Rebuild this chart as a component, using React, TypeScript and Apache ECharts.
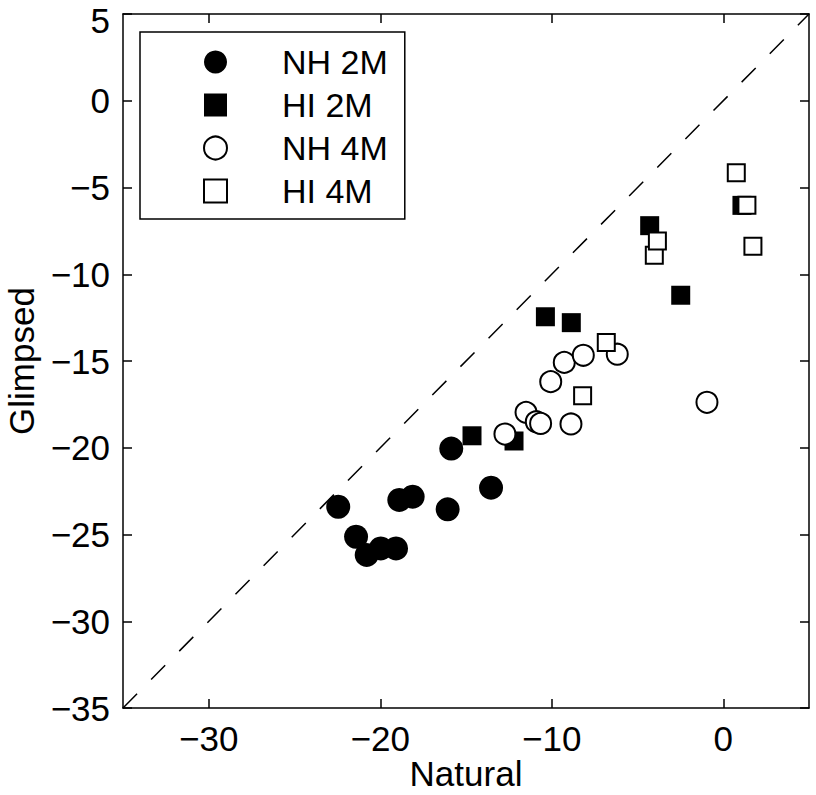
import React, { useEffect, useRef } from "react";
import * as echarts from "echarts";

const xTicks = [-30, -20, -10, 0];
const seriesNames = ["NH 2M", "HI 2M", "NH 4M", "HI 4M"];

const nh2mX = [-22.45, -21.41, -20.79, -19.97, -19.08, -18.89, -18.11, -15.86, -16.07, -13.54];
const nh2mY = [-23.4, -25.13, -26.18, -25.8, -25.8, -23.01, -22.82, -20.05, -23.55, -22.3];

const hi2mX = [-14.65, -12.2, -10.37, -8.86, -4.29, -2.48, 1.09];
const hi2mY = [-19.31, -19.61, -12.45, -12.79, -7.2, -11.21, -6.03];

const nh4mX = [-12.73, -11.5, -10.9, -10.65, -8.88, -10.06, -9.27, -8.16, -6.18, -0.95];
const nh4mY = [-19.21, -17.96, -18.5, -18.6, -18.63, -16.19, -15.08, -14.67, -14.61, -17.38];

const hi4mX = [-8.2, -6.82, -4.02, -3.84, 0.76, 1.38, 1.73];
const hi4mY = [-17.0, -13.94, -8.91, -8.08, -4.15, -6.03, -8.39];

const diagonal = [-35, 5];
const yMax = 5;

const FONT = "'Liberation Sans', Arial, Helvetica, sans-serif";
const fmt = (v: number) => String(v).replace("-", "\u2212");
const zip = (xs: number[], ys: number[]) => xs.map((x, i) => [x, ys[i]]);

export default function App() {
  const ref = useRef<HTMLDivElement>(null);
  useEffect(() => {
    if (!ref.current) return;
    const chart = echarts.init(ref.current, null, { renderer: "svg" });
    const axisLine = { show: true, onZero: false, lineStyle: { color: "#000", width: 1.5 } };
    const tick = { show: true, inside: true, length: 9, lineStyle: { color: "#000", width: 1.5 } };
    chart.setOption({
      animation: false,
      backgroundColor: "#fff",
      textStyle: { fontFamily: FONT },
      grid: {
        left: 123,
        right: 7,
        top: 14,
        bottom: 87,
        containLabel: false,
        outerBoundsMode: "none",
      },
      legend: {
        data: seriesNames,
        orient: "vertical",
        left: 140,
        top: 32,
        padding: [13, 17, 11, 63],
        itemWidth: 23,
        itemHeight: 23,
        itemGap: 9,
        borderColor: "#000",
        borderWidth: 1.5,
        backgroundColor: "#fff",
        selectedMode: false,
        textStyle: { fontSize: 34, color: "#000", fontFamily: FONT, padding: [0, 0, 0, 50] },
      },
      xAxis: [
        {
          type: "value",
          min: -35,
          max: 5,
          position: "bottom",
          name: "Natural",
          nameLocation: "middle",
          nameGap: 48,
          nameMoveOverlap: false,
          nameTextStyle: { fontSize: 35, lineHeight: 35, color: "#000", fontFamily: FONT },
          axisLine,
          axisTick: { ...tick, customValues: xTicks },
          axisLabel: {
            customValues: xTicks,
            fontSize: 35,
            color: "#000",
            margin: 13,
            fontFamily: FONT,
            formatter: fmt,
          },
          splitLine: { show: false },
        },
        {
          type: "value",
          min: -35,
          max: 5,
          position: "top",
          axisLine,
          axisTick: { ...tick, customValues: xTicks },
          axisLabel: { show: false, customValues: xTicks },
          splitLine: { show: false },
        },
      ],
      yAxis: [
        {
          type: "value",
          min: -35,
          max: yMax,
          interval: 5,
          position: "left",
          name: "Glimpsed",
          nameLocation: "middle",
          nameGap: 84,
          nameMoveOverlap: false,
          nameRotate: 90,
          nameTextStyle: { fontSize: 35, color: "#000", fontFamily: FONT },
          axisLine,
          axisTick: tick,
          axisLabel: {
            fontSize: 35,
            lineHeight: 24,
            color: "#000",
            margin: 13,
            fontFamily: FONT,
            formatter: (v: number) => (v === yMax ? "{t|" + fmt(v) + "}" : fmt(v)),
            rich: {
              t: {
                fontSize: 35,
                lineHeight: 24,
                color: "#000",
                fontFamily: FONT,
                padding: [12, 0, 0, 0],
              },
            },
          },
          splitLine: { show: false },
        },
        {
          type: "value",
          min: -35,
          max: yMax,
          interval: 5,
          position: "right",
          axisLine,
          axisTick: tick,
          axisLabel: { show: false },
          splitLine: { show: false },
        },
      ],
      series: [
        {
          name: "diag",
          type: "line",
          data: zip(diagonal, diagonal),
          showSymbol: false,
          symbol: "none",
          silent: true,
          lineStyle: { color: "#000", width: 1.5, type: [20, 20] },
          z: 1,
        },
        {
          name: "NH 2M",
          type: "scatter",
          symbol: "circle",
          symbolSize: 24,
          data: zip(nh2mX, nh2mY),
          itemStyle: { color: "#000", opacity: 1 },
          z: 2,
        },
        {
          name: "HI 2M",
          type: "scatter",
          symbol: "rect",
          symbolSize: 19,
          data: zip(hi2mX, hi2mY),
          itemStyle: { color: "#000", opacity: 1 },
          z: 3,
        },
        {
          name: "NH 4M",
          type: "scatter",
          symbol: "circle",
          symbolSize: 21,
          data: zip(nh4mX, nh4mY),
          itemStyle: { color: "#fff", borderColor: "#000", borderWidth: 2, opacity: 1 },
          z: 4,
        },
        {
          name: "HI 4M",
          type: "scatter",
          symbol: "rect",
          symbolSize: 17,
          data: zip(hi4mX, hi4mY),
          itemStyle: { color: "#fff", borderColor: "#000", borderWidth: 2, opacity: 1 },
          z: 5,
        },
      ],
    });
    return () => chart.dispose();
  }, []);
  return (
    <div
      ref={ref}
      style={{ position: "fixed", left: 0, top: 0, width: 816, height: 795, background: "#fff" }}
    />
  );
}
